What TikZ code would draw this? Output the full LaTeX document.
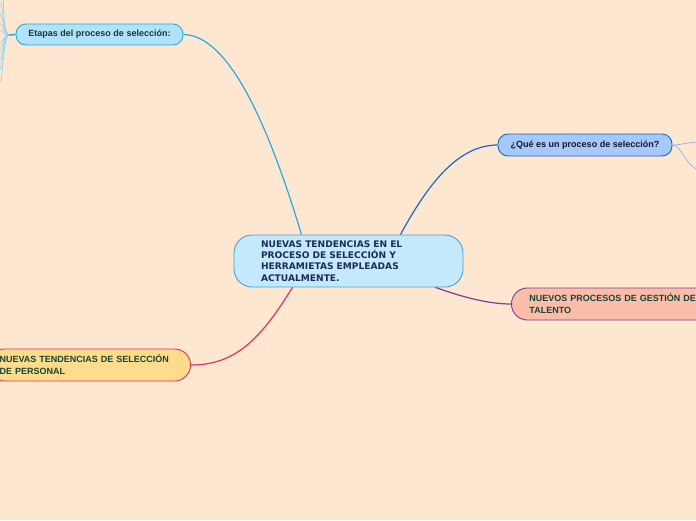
\documentclass[tikz,border=0pt]{standalone}
\usepackage{fontspec}
\setmainfont{Liberation Sans}
\newfontfamily\verd{DejaVu Sans}
\definecolor{bgc}{HTML}{FEE7D0}
\definecolor{cfill}{HTML}{C4E9FB}
\definecolor{cdraw}{HTML}{4A9FD8}
\definecolor{ctext}{HTML}{1A2B5C}
\definecolor{efill}{HTML}{B0E2FA}
\definecolor{edraw}{HTML}{27A9E1}
\definecolor{etext}{HTML}{173833}
\definecolor{qfill}{HTML}{A6C8FB}
\definecolor{qdraw}{HTML}{1C64D0}
\definecolor{qtext}{HTML}{15152A}
\definecolor{pfill}{HTML}{F9BDAA}
\definecolor{pdraw}{HTML}{7D3C98}
\definecolor{yfill}{HTML}{FFDB8C}
\definecolor{ydraw}{HTML}{E4305C}
\definecolor{gtext}{HTML}{154535}
\definecolor{fanc}{HTML}{8ED3F2}
\definecolor{fanq}{HTML}{9AAFD8}
\tikzset{
  topic/.style={draw, line width=0.9pt, align=left, inner ysep=0pt, font=\bfseries\fontsize{9}{12}\selectfont},
  link/.style={line width=1.2pt},
  fan/.style={draw=fanc, line width=0.6pt},
}
\begin{document}
\begin{tikzpicture}[x=1pt,y=-1pt]
\fill[bgc] (0,0) rectangle (696,520);
\useasboundingbox (0,0) rectangle (696,520);
\clip (0,0) rectangle (696,520);
% fan lines left of Etapas
\coordinate (fo) at (9,35);
\foreach \ty/\tx in {-4/4, 2/0, 12/-2, 22/-2, 30/-2, 44/-2, 52/-2, 62/-2, 72/-2, 82/0}{
  \draw[fan] (fo) .. controls (3,35) and (3,\ty) .. (\tx,\ty);
}
% nodes
\node[topic, fill=cfill, draw=cdraw, text=ctext, rounded corners=18pt,
  minimum width=229pt, minimum height=52pt, text width=175pt, inner xsep=27pt,
  font=\verd\bfseries\fontsize{9.1}{11.3}\selectfont]
  (c) at (348.5,261) {NUEVAS TENDENCIAS EN EL\\PROCESO DE SELECCIÓN Y\\HERRAMIETAS EMPLEADAS\\ACTUALMENTE.};
\node[topic, fill=efill, draw=edraw, text=etext, rounded corners=10pt,
  minimum width=167pt, minimum height=21pt, inner xsep=4pt]
  (e) at (99.5,34.5) {Etapas del proceso de selección:};
\node[topic, fill=qfill, draw=qdraw, text=qtext, rounded corners=10pt,
  minimum width=174pt, minimum height=22pt, inner xsep=4pt]
  (q) at (585,145) {¿Qué es un proceso de selección?};
\node[topic, fill=pfill, draw=pdraw, text=gtext, rounded corners=16pt,
  minimum height=32pt, text width=190pt, inner xsep=18pt, anchor=west]
  (p) at (511,304) {NUEVOS PROCESOS DE GESTIÓN DE\\TALENTO};
\node[topic, fill=yfill, draw=ydraw, text=gtext, rounded corners=16pt,
  minimum height=32pt, text width=180pt, inner xsep=11pt, anchor=east]
  (y) at (191,365) {NUEVAS TENDENCIAS DE SELECCIÓN\\DE PERSONAL};
% stub on Etapas left
\draw[draw=edraw, line width=1.5pt] (e.west) -- (fo);
% right of Qué
\coordinate (qa) at (700,142);
\coordinate (qb) at (700,170);
\draw[draw=fanq, line width=0.7pt] (q.east) .. controls (682,145) and (688,142) .. (qa);
\draw[draw=fanq, line width=0.7pt] (q.east) .. controls (682,145) and (686,168) .. (qb);
% connectors
\draw[link, draw=edraw] (e.east) .. controls (230,35) and (270,130) .. ([xshift=-47pt]c.north);
\draw[link, draw=qdraw] ([xshift=52pt]c.north) .. controls (430,180) and (460,145) .. (q.west);
\draw[link, draw=ydraw] ([xshift=-56pt]c.south) .. controls (260,340) and (235,365) .. (y.east);
\draw[link, draw=pdraw] ([xshift=87pt]c.south) .. controls (465,298) and (490,304) .. (p.west);
\end{tikzpicture}
\end{document}
